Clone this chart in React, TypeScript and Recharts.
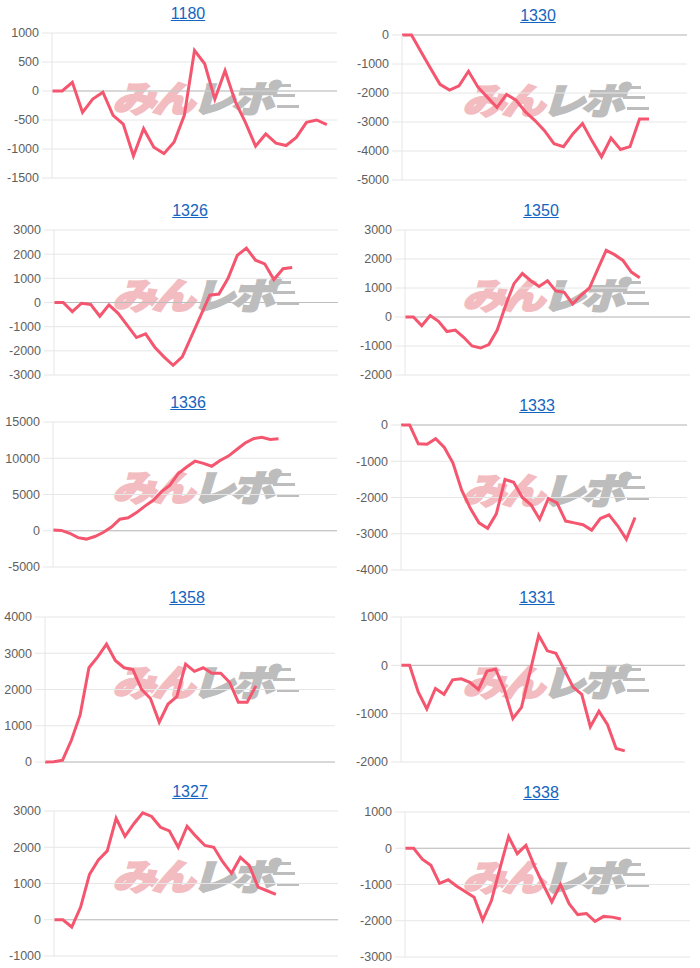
import React from 'react';
import { LineChart, Line, XAxis, YAxis, CartesianGrid, ReferenceLine } from 'recharts';

// cumulative values per machine
const s1180 = [0, 0, 150, -370, -140, -20, -420, -570, -1120, -650, -970, -1080, -880, -420, 700, 470, -140, 350, -180, -540, -950, -740, -900, -940, -800, -540, -500, -580];
const s1330 = [0, 0, -580, -1150, -1700, -1900, -1750, -1250, -1800, -2150, -2500, -2050, -2250, -2650, -2950, -3300, -3750, -3850, -3400, -3050, -3650, -4200, -3550, -3950, -3850, -2900, -2900];
const s1326 = [0, 0, -380, -30, -80, -570, -100, -450, -950, -1450, -1300, -1850, -2250, -2600, -2250, -1400, -550, 300, 350, 1000, 1950, 2250, 1750, 1600, 950, 1400, 1450];
const s1350 = [0, 0, -300, 50, -150, -500, -450, -700, -1000, -1070, -950, -450, 400, 1150, 1500, 1250, 1050, 1250, 900, 850, 450, 750, 1000, 1650, 2300, 2150, 1950, 1550, 1350];
const s1336 = [100, 50, -350, -950, -1150, -800, -250, 500, 1600, 1800, 2500, 3400, 4200, 5400, 6300, 7900, 8800, 9600, 9300, 8900, 9700, 10300, 11200, 12100, 12700, 12900, 12600, 12700];
const s1333 = [0, 0, -520, -530, -380, -620, -1050, -1800, -2300, -2700, -2850, -2450, -1500, -1580, -2000, -2200, -2600, -2030, -2150, -2650, -2700, -2750, -2900, -2580, -2480, -2780, -3150, -2550];
const s1358 = [0, 10, 50, 600, 1300, 2600, 2900, 3250, 2800, 2600, 2550, 2000, 1750, 1100, 1600, 1800, 2700, 2500, 2600, 2450, 2450, 2200, 1650, 1650, 2100];
const s1331 = [0, 0, -550, -900, -480, -600, -300, -280, -350, -500, -120, -80, -500, -1100, -870, -130, 620, 300, 250, -100, -450, -600, -1270, -950, -1230, -1720, -1770];
const s1327 = [0, 0, -200, 350, 1250, 1650, 1900, 2800, 2300, 2650, 2950, 2850, 2550, 2450, 2000, 2580, 2300, 2050, 2000, 1600, 1280, 1720, 1500, 900, 800, 700];
const s1338 = [0, 0, -300, -470, -970, -870, -1050, -1200, -1350, -1980, -1450, -550, 320, -150, 80, -500, -1000, -1480, -1000, -1530, -1830, -1800, -2020, -1880, -1900, -1950];

// y tick labels
const t1180 = [-1500, -1000, -500, 0, 500, 1000];
const t1330 = [-5000, -4000, -3000, -2000, -1000, 0];
const t1326 = [-3000, -2000, -1000, 0, 1000, 2000, 3000];
const t1350 = [-2000, -1000, 0, 1000, 2000, 3000];
const t1336 = [-5000, 0, 5000, 10000, 15000];
const t1333 = [-4000, -3000, -2000, -1000, 0];
const t1358 = [0, 1000, 2000, 3000, 4000];
const t1331 = [-2000, -1000, 0, 1000];
const t1327 = [-1000, 0, 1000, 2000, 3000];
const t1338 = [-3000, -2000, -1000, 0, 1000];

const titles = ['1180', '1330', '1326', '1350', '1336', '1333', '1358', '1331', '1327', '1338'];
const series = [s1180, s1330, s1326, s1350, s1336, s1333, s1358, s1331, s1327, s1338];
const tickSets = [t1180, t1330, t1326, t1350, t1336, t1333, t1358, t1331, t1327, t1338];
// number of x slots (dates) on each chart
const slotCounts = [29, 31, 32, 35, 35, 34, 34, 34, 33, 34];

// layout: cell top, plot left / right inside the 350px column, title centre
const layout = [
  { top: 0, left: 52, right: 337, titleX: 188 },
  { top: 2, left: 52, right: 337, titleX: 188 },
  { top: 197, left: 54, right: 338, titleX: 190 },
  { top: 197, left: 55, right: 340, titleX: 191 },
  { top: 389, left: 53, right: 337, titleX: 188 },
  { top: 392, left: 51, right: 337, titleX: 187 },
  { top: 584, left: 45, right: 335, titleX: 187 },
  { top: 584, left: 51, right: 335, titleX: 187 },
  { top: 778, left: 54, right: 338, titleX: 190 },
  { top: 779, left: 55, right: 340, titleX: 191 },
];

const LINE = '#f5566f';
const GRID = '#e6e6e6';
const ZERO = '#bdbdbd';
const FONT = 'Arial, "Liberation Sans", Helvetica, sans-serif';
const PINK = '#f2bcc0';
const GREY = '#bdbdbd';

function Watermark() {
  return (
    <div style={{ position: 'absolute', left: 117, top: 78, width: 178, height: 36, pointerEvents: 'none' }}>
      <div style={{
        position: 'absolute', left: 0, top: 0, whiteSpace: 'nowrap',
        fontFamily: '"Noto Sans CJK JP", sans-serif', fontWeight: 900, fontSize: 36, lineHeight: '36px',
        transform: 'scaleX(1.2) skewX(-14deg)', transformOrigin: 'left center', letterSpacing: -3,
      }}>
        <span style={{ color: PINK, WebkitTextStroke: `2px ${PINK}` }}>みん</span>
        <span style={{ color: GREY, WebkitTextStroke: `2px ${GREY}` }}>レポ</span>
      </div>
      {[6, 16, 27].map((y, i) => (
        <div key={i} style={{ position: 'absolute', left: 152 + i * 4, top: y, width: 22, height: 3, background: GREY }} />
      ))}
    </div>
  );
}

function MiniChart({ idx }: { idx: number }) {
  const values = series[idx];
  const ticks = tickSets[idx];
  const slots = slotCounts[idx];
  const lay = layout[idx];
  const rows = Array.from({ length: slots }, (_, i) => ({ i, v: i < values.length ? values[i] : null }));
  const col = idx % 2 === 0 ? 0 : 350;

  return (
    <div style={{ position: 'absolute', left: col, top: lay.top, width: 350, height: 190 }}>
      <Watermark />
      <div style={{
        position: 'absolute', left: lay.titleX, top: 5, transform: 'translateX(-50%)',
        fontFamily: FONT, fontSize: 16, lineHeight: '18px', color: '#1565c0', textDecoration: 'underline',
      }}>{titles[idx]}</div>
      <div style={{ position: 'absolute', left: 0, top: 0 }}>
        <LineChart width={350} height={190} data={rows} margin={{ top: 33, right: 350 - lay.right, left: 0, bottom: 12 }}>
          <CartesianGrid vertical={false} stroke={GRID} />
          <XAxis type="number" dataKey="i" domain={[0, slots - 1]} hide />
          <YAxis
            domain={[ticks[0], ticks[ticks.length - 1]]}
            ticks={ticks}
            interval={0}
            width={lay.left}
            tickSize={10}
            tickMargin={3}
            tickLine={{ stroke: GRID }}
            axisLine={{ stroke: GRID }}
            tick={{ fontSize: 12.5, fill: '#5f5f5f', fontFamily: FONT }}
          />
          <ReferenceLine y={0} stroke={ZERO} />
          <Line type="linear" dataKey="v" stroke={LINE} strokeWidth={3} dot={false} isAnimationActive={false} />
        </LineChart>
      </div>
    </div>
  );
}

export default function App() {
  return (
    <div style={{ position: 'absolute', left: 0, top: 0, width: 700, height: 968, background: '#fff' }}>
      {titles.map((_, i) => <MiniChart key={i} idx={i} />)}
    </div>
  );
}
